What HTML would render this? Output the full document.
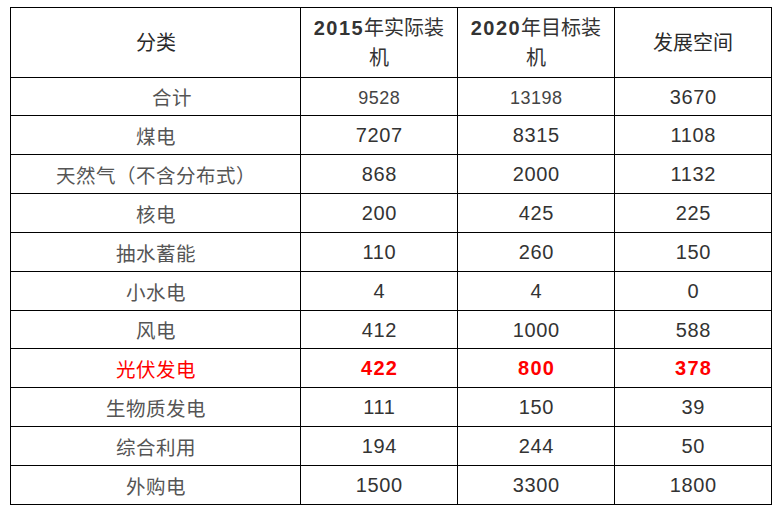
<!DOCTYPE html><html lang="zh-CN"><head><meta charset="utf-8"><title>table</title><style>
*{margin:0;padding:0;box-sizing:border-box}
html,body{width:784px;height:512px;background:#fff;overflow:hidden}
body{position:relative;font-family:"Liberation Sans",sans-serif;color:#333}
.h{position:absolute;height:1px;background:#000;left:10px;width:762px}
.v{position:absolute;width:1px;background:#000;top:7px;height:498px}
.c{position:absolute;display:flex;align-items:center;justify-content:center;text-align:center;white-space:nowrap}
.zh{font-size:19.5px;line-height:30px;color:#555;padding-top:3px}
.zhh{font-size:20px;line-height:30px;color:#2a2a2a}
.num{font-size:20px;line-height:30px}
.num span{letter-spacing:.6px;margin-right:-.6px}
.hd{font-weight:normal}
.hd span{letter-spacing:1.5px;margin-right:0;font-weight:bold}
.red{color:#f00}
.num.red{font-weight:bold}
.red span{letter-spacing:1.3px;margin-right:-1.3px}
.zred{color:#f00}
.lt{font-size:18px;color:#444;padding-top:2px}
.lt span{letter-spacing:.5px;margin-right:-.5px}
</style></head><body>
<div class="h" style="top:7px"></div>
<div class="h" style="top:77px"></div>
<div class="h" style="top:115px"></div>
<div class="h" style="top:154px"></div>
<div class="h" style="top:193px"></div>
<div class="h" style="top:232px"></div>
<div class="h" style="top:271px"></div>
<div class="h" style="top:310px"></div>
<div class="h" style="top:348px"></div>
<div class="h" style="top:387px"></div>
<div class="h" style="top:426px"></div>
<div class="h" style="top:465px"></div>
<div class="h" style="top:504px"></div>
<div class="v" style="left:10px"></div>
<div class="v" style="left:300px"></div>
<div class="v" style="left:457px"></div>
<div class="v" style="left:614px"></div>
<div class="v" style="left:771px"></div>
<div class="c zhh hd" style="left:11px;top:8px;width:289px;height:69px;">分类</div>
<div class="c num hd" style="left:301px;top:8px;width:156px;height:69px;"><div><span>2015</span>年实际装<br>机</div></div>
<div class="c num hd" style="left:458px;top:8px;width:156px;height:69px;"><div><span>2020</span>年目标装<br>机</div></div>
<div class="c zhh" style="left:615px;top:8px;width:156px;height:69px;">发展空间</div>
<div class="c zh" style="left:11px;top:78px;width:289px;height:37px;padding-left:32px">合计</div>
<div class="c num lt" style="left:301px;top:78px;width:156px;height:37px;"><span>9528</span></div>
<div class="c num lt" style="left:458px;top:78px;width:156px;height:37px;"><span>13198</span></div>
<div class="c num" style="left:615px;top:78px;width:156px;height:37px;"><span>3670</span></div>
<div class="c zh" style="left:11px;top:116px;width:289px;height:38px;">煤电</div>
<div class="c num" style="left:301px;top:116px;width:156px;height:38px;"><span>7207</span></div>
<div class="c num" style="left:458px;top:116px;width:156px;height:38px;"><span>8315</span></div>
<div class="c num" style="left:615px;top:116px;width:156px;height:38px;"><span>1108</span></div>
<div class="c zh" style="left:11px;top:155px;width:289px;height:38px;">天然气（不含分布式）</div>
<div class="c num" style="left:301px;top:155px;width:156px;height:38px;"><span>868</span></div>
<div class="c num" style="left:458px;top:155px;width:156px;height:38px;"><span>2000</span></div>
<div class="c num" style="left:615px;top:155px;width:156px;height:38px;"><span>1132</span></div>
<div class="c zh" style="left:11px;top:194px;width:289px;height:38px;">核电</div>
<div class="c num" style="left:301px;top:194px;width:156px;height:38px;"><span>200</span></div>
<div class="c num" style="left:458px;top:194px;width:156px;height:38px;"><span>425</span></div>
<div class="c num" style="left:615px;top:194px;width:156px;height:38px;"><span>225</span></div>
<div class="c zh" style="left:11px;top:233px;width:289px;height:38px;">抽水蓄能</div>
<div class="c num" style="left:301px;top:233px;width:156px;height:38px;"><span>110</span></div>
<div class="c num" style="left:458px;top:233px;width:156px;height:38px;"><span>260</span></div>
<div class="c num" style="left:615px;top:233px;width:156px;height:38px;"><span>150</span></div>
<div class="c zh" style="left:11px;top:272px;width:289px;height:38px;">小水电</div>
<div class="c num" style="left:301px;top:272px;width:156px;height:38px;"><span>4</span></div>
<div class="c num" style="left:458px;top:272px;width:156px;height:38px;"><span>4</span></div>
<div class="c num" style="left:615px;top:272px;width:156px;height:38px;"><span>0</span></div>
<div class="c zh" style="left:11px;top:311px;width:289px;height:37px;">风电</div>
<div class="c num" style="left:301px;top:311px;width:156px;height:37px;"><span>412</span></div>
<div class="c num" style="left:458px;top:311px;width:156px;height:37px;"><span>1000</span></div>
<div class="c num" style="left:615px;top:311px;width:156px;height:37px;"><span>588</span></div>
<div class="c zh zred" style="left:11px;top:349px;width:289px;height:38px;">光伏发电</div>
<div class="c num red" style="left:301px;top:349px;width:156px;height:38px;"><span>422</span></div>
<div class="c num red" style="left:458px;top:349px;width:156px;height:38px;"><span>800</span></div>
<div class="c num red" style="left:615px;top:349px;width:156px;height:38px;"><span>378</span></div>
<div class="c zh" style="left:11px;top:388px;width:289px;height:38px;">生物质发电</div>
<div class="c num" style="left:301px;top:388px;width:156px;height:38px;"><span>111</span></div>
<div class="c num" style="left:458px;top:388px;width:156px;height:38px;"><span>150</span></div>
<div class="c num" style="left:615px;top:388px;width:156px;height:38px;"><span>39</span></div>
<div class="c zh" style="left:11px;top:427px;width:289px;height:38px;">综合利用</div>
<div class="c num" style="left:301px;top:427px;width:156px;height:38px;"><span>194</span></div>
<div class="c num" style="left:458px;top:427px;width:156px;height:38px;"><span>244</span></div>
<div class="c num" style="left:615px;top:427px;width:156px;height:38px;"><span>50</span></div>
<div class="c zh" style="left:11px;top:466px;width:289px;height:38px;">外购电</div>
<div class="c num" style="left:301px;top:466px;width:156px;height:38px;"><span>1500</span></div>
<div class="c num" style="left:458px;top:466px;width:156px;height:38px;"><span>3300</span></div>
<div class="c num" style="left:615px;top:466px;width:156px;height:38px;"><span>1800</span></div>
</body></html>
